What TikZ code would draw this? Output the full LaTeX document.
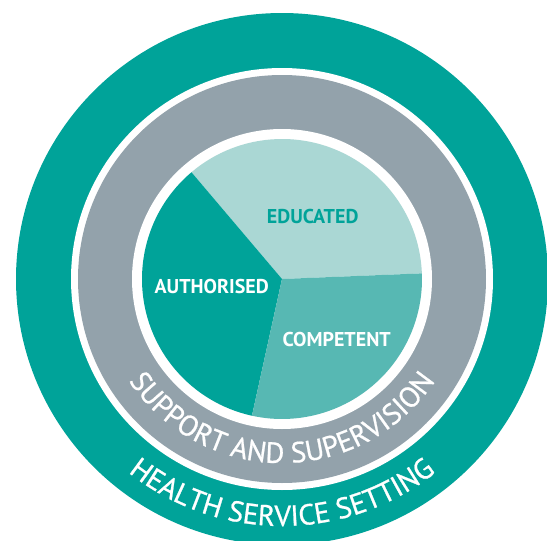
\documentclass[tikz,border=0pt]{standalone}
\usepackage{fontspec}
\setmainfont{PT Sans}
\newfontfamily\ringfont[FakeBold=0.8]{PT Sans}
\usetikzlibrary{decorations.text}

\definecolor{hsteal}{HTML}{00A399}
\definecolor{ssgray}{HTML}{93A2AB}
\definecolor{edulight}{HTML}{AAD7D4}
\definecolor{compmid}{HTML}{57B8B3}

\begin{document}
\begin{tikzpicture}[x=1pt,y=1pt,
  seglabel/.style={font=\bfseries\fontsize{20}{22}\selectfont,text=white,inner sep=0pt},
  arctext/.style={decorate,decoration={text along path,text align=center,
    text={|\ringfont\fontsize{29}{31}\selectfont\color{white}|#1}}}]
\useasboundingbox (0,0) rectangle (547,-541);
\coordinate (c) at (282,-279);

% rings
\fill[hsteal] (c) circle (266);
\fill[white] (c) circle (211);
\fill[ssgray] (c) circle (204);
\fill[white] (c) circle (150);

% pie
\fill[edulight] (c) -- ++(2.3:140) arc (2.3:130.3:140) -- cycle;
\fill[hsteal] (c) -- ++(130.3:140) arc (130.3:257.6:140) -- cycle;
\fill[compmid] (c) -- ++(257.6:140) arc (257.6:362.3:140) -- cycle;

\node[seglabel,text=hsteal] (educated) at (312.7,-216) {EDUCATED};
\node[seglabel] (authorised) at (211.7,-286.5) {AUTHORISED};
\node[seglabel] (competent) at (336.7,-339) {COMPETENT};

% ring texts
\path[arctext={SUPPORT AND SUPERVISION}] (c) ++(210:184) arc (210:330:184);
\path[arctext={HEALTH SERVICE SETTING}] (c) ++(225:247) arc (225:315:247);
\end{tikzpicture}
\end{document}
